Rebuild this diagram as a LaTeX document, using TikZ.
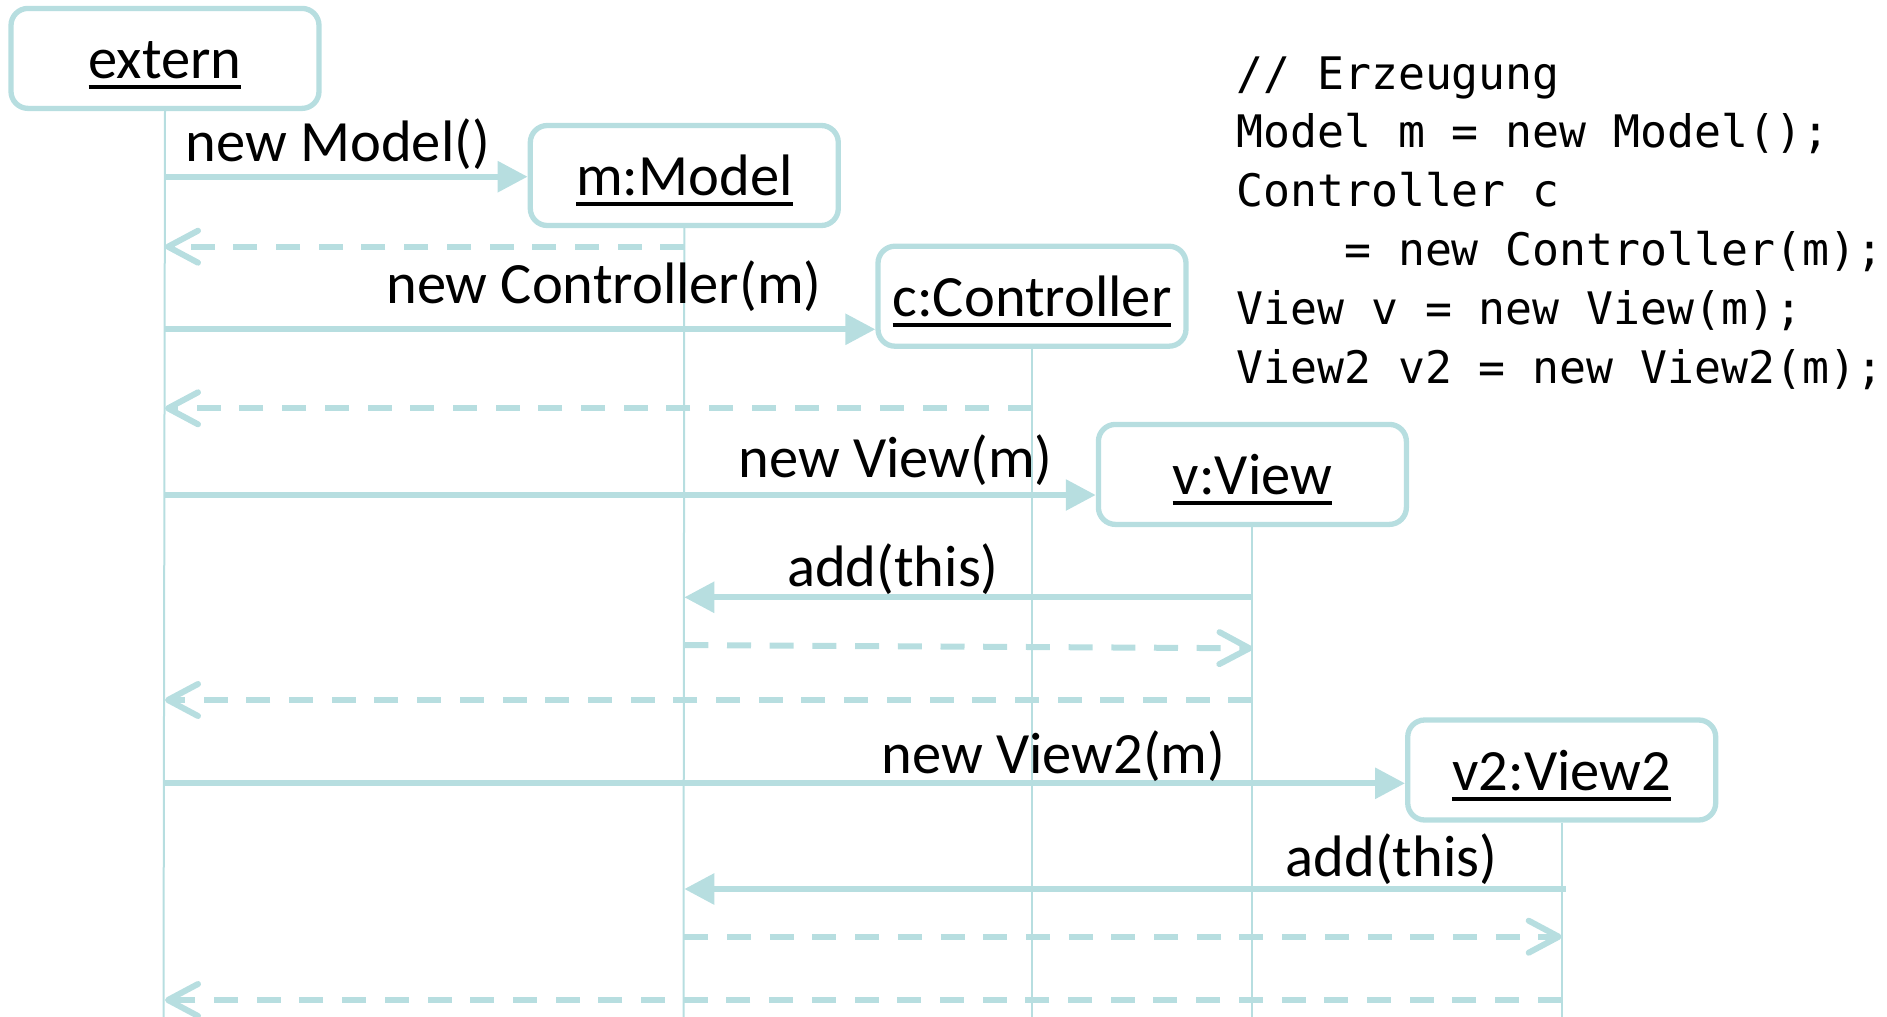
\documentclass[tikz,border=0pt]{standalone}
\usepackage{fontspec}
\setmainfont{Carlito}
\newfontfamily\codefont{DejaVu Sans Mono}
\usetikzlibrary{arrows.meta}
\definecolor{tl}{RGB}{183,222,224}
\newcommand\ulbox[1]{\setbox0=\hbox{#1}\rlap{\raisebox{-10.5pt}{\rule{\wd0}{4pt}}}\box0}
\begin{document}
\begin{tikzpicture}[x=1pt,y=-1pt,
  obj/.style={draw=tl, line width=5.3pt, rounded corners=17pt, fill=white,
    minimum width=308pt, minimum height=100pt, inner sep=0pt,
    text height=40pt, text depth=0pt, font=\fontsize{58.5}{70}\selectfont},
  life/.style={draw=tl, line width=2pt},
  msg/.style={draw=tl, line width=6pt, -{Triangle[length=30pt,width=30pt]}},
  ret/.style={draw=tl, line width=6pt, dash pattern=on 24pt off 18.7pt,
    -{Straight Barb[length=30pt,width=32pt,round]}},
  lbl/.style={anchor=base, inner sep=0pt, font=\fontsize{58.5}{70}\selectfont},
  code/.style={anchor=base west, inner sep=0pt, font=\codefont\fontsize{44.8}{59}\selectfont}]
\useasboundingbox (0,0) rectangle (1887,1017);
% objects
\node[obj] (ext) at (165,58.4) {\ulbox{extern}};
\node[obj] (mdl) at (684.3,175.5) {\ulbox{m:Model}};
\node[obj] (ctl) at (1032,296.2) {\ulbox{c:Controller}};
\node[obj] (vw)  at (1252.4,474.4) {\ulbox{v:View}};
\node[obj] (vw2) at (1561.7,770) {\ulbox{v2:View2}};
% lifeline ends
\coordinate (extB) at (163.5,1017);
\coordinate (mdlB) at (683.5,1017);
\coordinate (ctlB) at (1032,1017);
\coordinate (vwB)  at (1252.4,1017);
\coordinate (vw2B) at (1561.7,1017);
\begin{scope}[on background layer/.style={}]
\draw[life] (ext.south) -- (extB);
\draw[life] (mdl.south) -- (mdlB);
\draw[life] (ctl.south) -- (ctlB);
\draw[life] (vw.south) -- (vwB);
\draw[life] (vw2.south) -- (vw2B);
\end{scope}
% messages
\draw[msg] (ext |- 0,176.7) -- (mdl.west |- 0,176.7);
\node[lbl] (l1) at (337.9,161.7) {new Model()};
\draw[ret] (mdl |- 0,246.7) -- (ext |- 0,246.7);
\draw[msg] (ext |- 0,329.3) -- (ctl.west |- 0,329.3);
\node[lbl] (l2) at (604,303.3) {new Controller(m)};
\draw[ret] (ctl |- 0,408.3) -- (ext |- 0,408.3);
\draw[msg] (ext |- 0,495) -- (vw.west |- 0,495);
\node[lbl] (l3) at (895.6,477.3) {new View(m)};
\draw[msg] (vw |- 0,597.3) -- (mdl |- 0,597.3);
\node[lbl] (l4) at (893,586.7) {add(this)};
\draw[ret] (mdl |- 0,645) -- (vw |- 0,648.3);
\draw[ret] (vw |- 0,700) -- (ext |- 0,700);
\draw[msg] (ext |- 0,783.3) -- (vw2.west |- 0,783.3);
\node[lbl] (l5) at (1053.5,773.3) {new View2(m)};
\draw[msg] ([xshift=4pt]vw2 |- 0,889) -- (mdl |- 0,889);
\node[lbl] (l6) at (1391.5,876.7) {add(this)};
\draw[ret] (mdl |- 0,936.7) -- (vw2 |- 0,936.7);
\draw[ret] (vw2 |- 0,1000) -- (ext |- 0,1000);
% code
\node[code] (c1) at (1236,89.3) {// Erzeugung};
\node[code] (c2) at (1236,147.3) {Model m = new Model();};
\node[code] (c3) at (1236,206) {Controller c};
\node[code] (c4) at (1236,265) {\phantom{xxxx}= new Controller(m);};
\node[code] (c5) at (1236,324) {View v = new View(m);};
\node[code] (c6) at (1236,383.3) {View2 v2 = new View2(m);};
\end{tikzpicture}
\end{document}
